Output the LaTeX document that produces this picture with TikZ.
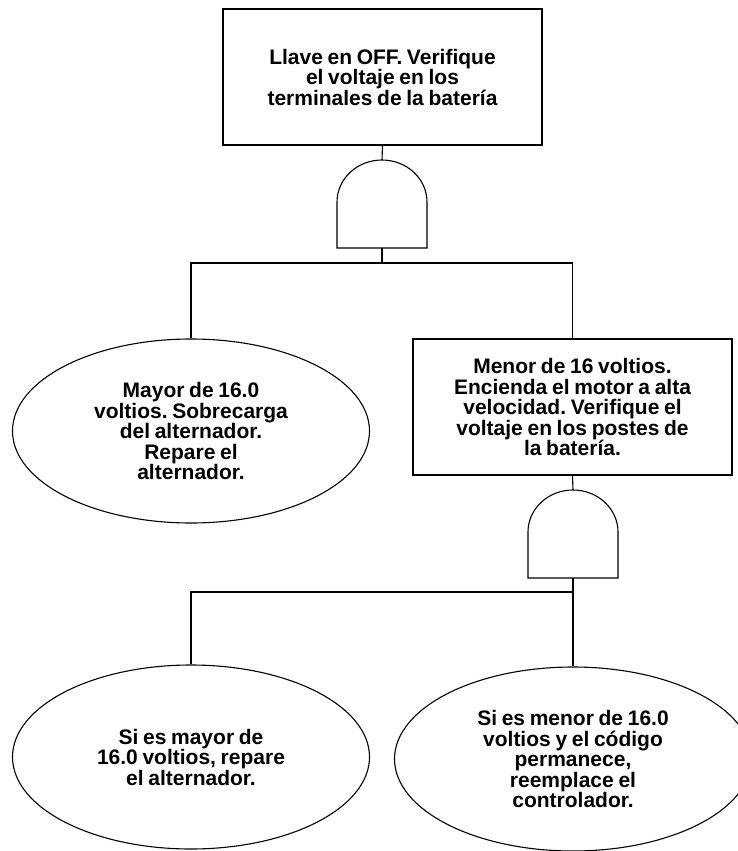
\documentclass[tikz,border=0pt]{standalone}
\usepackage{fontspec}
\setmainfont{Liberation Sans}[WordSpace=0.8]
\frenchspacing
\usetikzlibrary{shapes.geometric}
\newcommand{\andgate}[1]{%
    \draw (#1) ++(-45,88) -- ++(0,-46) arc[start angle=180, end angle=360, x radius=45, y radius=42] -- ++(0,46) -- cycle;}
\begin{document}
\begin{tikzpicture}[x=1pt, y=-1pt, line width=1.1pt,
    txt/.style={align=center, inner sep=0pt, font=\bfseries\fontsize{21}{20.5}\selectfont},
    stepbox/.style={txt, draw, minimum width=319, minimum height=136},
    leaf/.style={txt, draw, ellipse, minimum width=357, minimum height=184}]
    \useasboundingbox (0,0) rectangle (738,851);
    % top event and first gate
    \node[stepbox] (top) at (382.5,77) {Llave en OFF. Verifique\\el voltaje en los\\terminales de la batería};
    \coordinate (g1) at (382,160);
    \coordinate (g1b) at (382,248);
    \coordinate (j1) at (382,263);
    \andgate{g1}
    \draw (top.south) -- (g1);
    \draw (g1b) -- (j1);
    % first level
    \node[leaf] (high) at (191,431) {Mayor de 16.0\\voltios. Sobrecarga\\del alternador.\\Repare el\\alternador.};
    \node[stepbox] (low) at (572.5,407) {Menor de 16 voltios.\\Encienda el motor a alta\\velocidad. Verifique el\\voltaje en los postes de\\la batería.};
    \draw (high.north) |- (j1) -| (low.north);
    % second gate
    \coordinate (g2) at (573,490);
    \coordinate (g2b) at (573,578);
    \coordinate (j2) at (573,592);
    \andgate{g2}
    \draw (low.south) -- (g2);
    \draw (g2b) -- (j2);
    % second level
    \node[leaf] (highrun) at (191,757) {Si es mayor de\\16.0 voltios, repare\\el alternador.};
    \node[leaf] (lowrun) at (573,759) {Si es menor de 16.0\\voltios y el código\\permanece,\\reemplace el\\controlador.};
    \draw (highrun.north) |- (j2) -- (lowrun.north);
\end{tikzpicture}
\end{document}
